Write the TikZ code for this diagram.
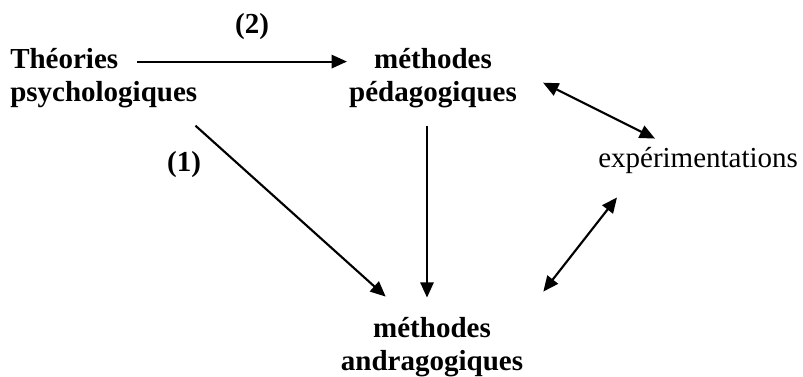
\documentclass[tikz,border=0pt]{standalone}
\usepackage{fontspec}
\setmainfont{Liberation Serif}
\usetikzlibrary{arrows.meta}
\tikzstyle{term} = [inner sep=0pt, font=\fontsize{21.75pt}{24.75pt}\selectfont\bfseries]
\tikzstyle{plain} = [inner sep=0pt, font=\fontsize{21.75pt}{24.75pt}\selectfont]
\tikzstyle{arr} = [line width=1.6pt, -{Triangle[length=11.5pt, width=10pt]}]
\tikzstyle{darr} = [line width=1.6pt, {Triangle[length=11.5pt, width=10pt]}-{Triangle[length=11.5pt, width=10pt]}]

\begin{document}
\begin{tikzpicture}[x=0.75pt, y=-0.75pt]
\useasboundingbox (0,0) rectangle (803,376);
\node (theo) [term, anchor=base west, align=left] at (10,101) {Théories\\psychologiques};
\node (peda) [term, anchor=base, align=center] at (433,101) {méthodes\\pédagogiques};
\node (andra) [term, anchor=base, align=center] at (432,370) {méthodes\\andragogiques};
\node (expe) [plain, anchor=base west] at (598,167) {expérimentations};
\node (lab2) [term, anchor=base] at (252,33) {(2)};
\node (lab1) [term, anchor=base] at (184,171) {(1)};
\draw [arr] ([shift={(-60,14)}]theo.north east) -- ([shift={(-2,14)}]peda.north west);
\draw [arr] ([shift={(-2,18)}]theo.south east) -- ([shift={(45,-20)}]andra.north west);
\draw [arr] ([shift={(-6,18)}]peda.south) -- ([shift={(-5,-19)}]andra.north);
\draw [darr] ([shift={(26,-25)}]peda.south east) -- ([shift={(57,-8)}]expe.north west);
\draw [darr] ([shift={(20,-25)}]andra.north east) -- ([shift={(19,24)}]expe.south west);
\end{tikzpicture}
\end{document}
